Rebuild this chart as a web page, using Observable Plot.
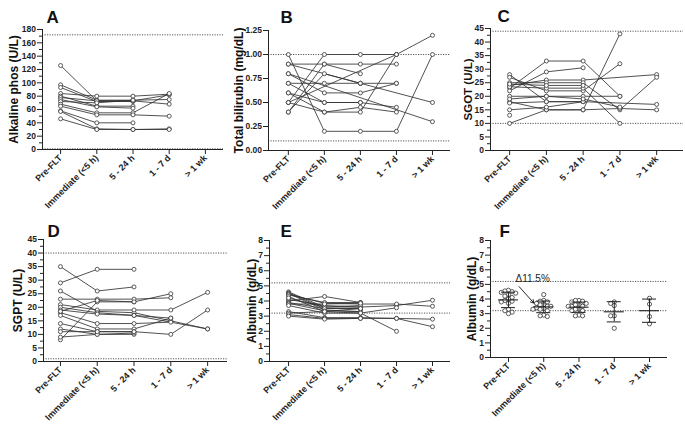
<!DOCTYPE html>
<html><head><meta charset="utf-8">
<script src="https://cdn.jsdelivr.net/npm/d3@7"></script>
<script src="https://cdn.jsdelivr.net/npm/@observablehq/plot@0.6"></script>
<style>
body{margin:0;background:#fff}
#wrap{position:relative;width:685px;height:435px;overflow:hidden}
#wrap>svg{position:absolute;background:transparent}
</style>
</head><body><div id="wrap"></div>
<script>
// ---- categories ----
const timepoints = ["Pre-FLT", "Immediate (<5 h)", "5 - 24 h", "1 - 7 d", "> 1 wk"];

// ---- per-patient series (Pre-FLT, Immediate, 5-24 h, 1-7 d, >1 wk) ----
const alkPhos = [
  [126, 73, 73, 82, null],
  [97, 74, 74, 75, null],
  [93, 72, 72, null, null],
  [84, 80, 80, 83, null],
  [80, 65, 65, null, null],
  [78, 73, 73, 68, null],
  [75, 64, 62, null, null],
  [72, 70, 74, null, null],
  [68, 55, 55, 84, null],
  [65, 52, 52, 50, null],
  [58, 40, 40, null, null],
  [57, 31, 30, 31, null],
  [46, 30, 30, 30, null]
];
const bilirubin = [
  [1.0, 0.2, 0.2, 0.2, 1.0],
  [0.9, 0.9, 0.9, 0.9, null],
  [0.9, null, 0.7, null, 0.5],
  [0.8, null, null, null, 0.3],
  [0.5, 1.0, 1.0, 1.0, null],
  [0.4, 0.9, 0.8, null, null],
  [0.5, null, null, 1.0, 1.2],
  [0.7, 0.7, 0.7, 0.7, null],
  [0.6, 0.5, 0.5, 0.45, null],
  [0.8, 0.6, 0.6, 0.7, null],
  [0.5, 0.4, 0.4, 1.0, null],
  [0.6, 0.4, 0.45, 0.4, null],
  [0.4, 0.8, 0.7, null, null],
  [0.7, 0.5, 0.5, null, null]
];
const sgot = [
  [10, 15, 15, 43, null],
  [23, 33, 33, 20, null],
  [22, 29, 30.5, null, null],
  [24, 26, 26, null, 28],
  [25, 25, 25, 15, 27],
  [28, 18, 18, null, 17],
  [27, 22, 22, 32, null],
  [23.5, 23, 23, 10, null],
  [20, 20, 20, 20, null],
  [18, 15, 15, 15.5, 15],
  [17.5, 18, 18, null, null],
  [13, null, null, null, null],
  [15, 16, 18, null, null],
  [24.5, 24, 24, null, null],
  [19, 20, 19, 16, null]
];
const sgpt = [
  [29, 34, 34, null, null],
  [35, 26, 27.5, null, null],
  [26, 18.5, 18, 15, 12],
  [8, 22, 22, 25, null],
  [23, 23, 23, 23.5, null],
  [21, 19, 19, 19, 25.5],
  [20, 18, 17, 16, null],
  [19, 17.5, 17, null, 12],
  [18, 14, 14, 14.5, null],
  [17, 12, 12, 16, null],
  [14, 11, 11, 10, 19],
  [12, 10, 10, null, null],
  [9, 10, 10.5, null, null],
  [11, 11, 11, null, null],
  [18.5, 22.5, 22, null, null]
];
const albumin = [
  [4.6, 3.6, 3.6, 3.7, 4.05],
  [4.55, 3.5, 3.5, null, null],
  [4.5, 3.4, 3.3, null, null],
  [4.45, 3.85, 3.8, 3.8, 3.65],
  [4.4, 3.9, 3.9, null, null],
  [4.0, 4.3, 3.9, null, null],
  [4.3, 3.3, 3.2, 3.55, null],
  [4.1, 3.7, 3.6, null, null],
  [4.2, 3.6, 3.7, null, null],
  [3.9, 3.5, 3.5, null, null],
  [3.85, 3.35, 3.3, null, null],
  [3.8, 3.8, 3.85, null, null],
  [3.7, 3.2, 3.2, 2.0, null],
  [3.3, 2.9, 2.9, 2.85, 2.8],
  [3.2, 3.3, 3.5, null, null],
  [3.1, 2.85, 2.85, 2.85, 2.3],
  [3.0, 2.8, 2.85, null, null]
];

// ---- reference ranges (dotted lines) ----
const alkPhosRef = [1, 172];
const bilirubinRef = [0.1, 1.0];
const sgotRef = [10, 44];
const sgptRef = [1, 40];
const albuminRef = [3.2, 5.2];

// ---- annotation in panel F ----
const deltaLabel = "Δ11.5%";
const deltaText = [{t: 0.2, v: 5.35}];
const deltaArrow = [{t1: 0.3, v1: 4.85, t2: 0.72, v2: 3.72}];

const FONT = "'Liberation Sans', Arial, Helvetica, sans-serif";
const wrap = document.getElementById("wrap");

function range(a, b, s) { const r = []; for (let v = a; v <= b + 1e-9; v += s) r.push(+v.toFixed(4)); return r; }

function axesMarks(cfg) {
  const marks = [];
  if (cfg.minor) marks.push(Plot.axisY({ticks: cfg.minor, tickSize: 3, tickFormat: () => "", stroke: "#222"}));
  marks.push(Plot.axisY({ticks: cfg.major, tickSize: 5, tickPadding: 1.5, tickFormat: cfg.fmt || (d => d), fontSize: 8.5, fontWeight: "bold", stroke: "#222"}));
  marks.push(Plot.axisX({ticks: [0, 1, 2, 3, 4], tickFormat: i => timepoints[i], tickRotate: -45, tickSize: 5, tickPadding: 2, fontSize: 9, fontWeight: "bold", stroke: "#222"}));
  marks.push(Plot.ruleX([cfg.xDomain[0]], {stroke: "#222", strokeWidth: 1}));
  marks.push(Plot.ruleY([0], {stroke: "#222", strokeWidth: 1}));
  marks.push(Plot.text([cfg.label], {frameAnchor: "left", dx: cfg.labelDx, rotate: -90, textAnchor: "middle", lineAnchor: "middle", fontSize: cfg.labelSize || 12, fontWeight: "bold", fill: "#111"}));
  marks.push(Plot.text([cfg.letter], {frameAnchor: "top-left", dx: cfg.letterDx, dy: cfg.letterDy, lineAnchor: "bottom", textAnchor: "start", fontSize: 17, fontWeight: "bold", fill: "#111"}));
  return marks;
}

function place(svg, left, top) {
  svg.style.left = left + "px";
  svg.style.top = top + "px";
  wrap.appendChild(svg);
}

function linePanel(cfg) {
  const rows = [];
  cfg.series.forEach((s, p) => s.forEach((v, t) => { if (v != null) rows.push({p, t, v}); }));
  const svg = Plot.plot({
    width: cfg.width, height: cfg.height,
    marginLeft: cfg.ml, marginTop: cfg.mt, marginBottom: cfg.mb, marginRight: cfg.mr,
    x: {type: "linear", domain: cfg.xDomain, label: null},
    y: {domain: [0, cfg.yMax], label: null},
    style: {fontFamily: FONT, color: "#222", background: "transparent", overflow: "visible"},
    marks: [
      Plot.ruleY(cfg.refs, {stroke: "#444", strokeWidth: 0.9, strokeDasharray: "1.2,1.3"}),
      ...axesMarks(cfg),
      Plot.line(rows, {x: "t", y: "v", z: "p", stroke: "#333", strokeWidth: 0.85}),
      Plot.dot(rows, {x: "t", y: "v", r: 2, stroke: "#333", strokeWidth: 0.8, fill: "white"})
    ]
  });
  place(svg, cfg.left, cfg.top);
}

function scatterPanel(cfg) {
  const innerW = cfg.width - cfg.ml - cfg.mr;
  const innerH = cfg.height - cfg.mt - cfg.mb;
  const pxX = innerW / (cfg.xDomain[1] - cfg.xDomain[0]);
  const pxY = innerH / cfg.yMax;
  const pts = [];
  const stats = [];
  for (let t = 0; t < timepoints.length; t++) {
    const vals = cfg.series.map(s => s[t]).filter(v => v != null).sort((a, b) => b - a);
    const placed = [];
    const d = 3.6;
    for (const v of vals) {
      let off = 0;
      for (let k = 0; k < 40; k++) {
        const cand = (k % 2 ? -1 : 1) * Math.ceil(k / 2) * d;
        const ok = placed.every(q => Math.hypot(q.o - cand, (q.v - v) * pxY) >= d);
        if (ok) { off = cand; break; }
      }
      placed.push({o: off, v});
      pts.push({x: t + off / pxX, v});
    }
    stats.push({t, mean: d3.mean(vals), sd: d3.deviation(vals)});
  }
  const mw = 10 / pxX, cw = 7 / pxX;
  const svg = Plot.plot({
    width: cfg.width, height: cfg.height,
    marginLeft: cfg.ml, marginTop: cfg.mt, marginBottom: cfg.mb, marginRight: cfg.mr,
    x: {type: "linear", domain: cfg.xDomain, label: null},
    y: {domain: [0, cfg.yMax], label: null},
    style: {fontFamily: FONT, color: "#222", background: "transparent", overflow: "visible"},
    marks: [
      Plot.ruleY(cfg.refs, {stroke: "#444", strokeWidth: 0.9, strokeDasharray: "1.2,1.3"}),
      ...axesMarks(cfg),
      Plot.dot(pts, {x: "x", y: "v", r: 2.1, stroke: "#333", strokeWidth: 0.8, fill: "white"}),
      Plot.ruleX(stats, {x: "t", y1: d => d.mean - d.sd, y2: d => d.mean + d.sd, stroke: "#222", strokeWidth: 1}),
      Plot.ruleY(stats, {y: "mean", x1: d => d.t - mw, x2: d => d.t + mw, stroke: "#222", strokeWidth: 1.1}),
      Plot.ruleY(stats, {y: d => d.mean + d.sd, x1: d => d.t - cw, x2: d => d.t + cw, stroke: "#222", strokeWidth: 1}),
      Plot.ruleY(stats, {y: d => d.mean - d.sd, x1: d => d.t - cw, x2: d => d.t + cw, stroke: "#222", strokeWidth: 1}),
      Plot.text(deltaText, {x: "t", y: "v", text: () => deltaLabel, textAnchor: "start", fontSize: 10, fill: "#222"}),
      Plot.arrow(deltaArrow, {x1: "t1", y1: "v1", x2: "t2", y2: "v2", stroke: "#111", strokeWidth: 0.9, headLength: 6, bend: false})
    ]
  });
  place(svg, cfg.left, cfg.top);
}

linePanel({series: alkPhos, refs: alkPhosRef, letter: "A", label: "Alkaline phos (U/L)",
  left: 0, top: 0, width: 228, height: 215, ml: 42, mt: 29, mb: 66, mr: 5, xDomain: [-0.5, 4.5],
  yMax: 180, major: range(0, 180, 20), minor: range(10, 170, 20), labelDx: -28, letterDx: 4, letterDy: -7});
linePanel({series: bilirubin, refs: bilirubinRef, letter: "B", label: "Total bilirubin (mg/dL)",
  left: 225, top: 0, width: 228, height: 215, ml: 43, mt: 30, mb: 65, mr: 3, xDomain: [-0.55, 4.5],
  yMax: 1.25, major: range(0, 1.25, 0.25), minor: null, fmt: d3.format(".2f"), labelDx: -29, letterDx: 12, letterDy: -8});
linePanel({series: sgot, refs: sgotRef, letter: "C", label: "SGOT (U/L)",
  left: 450, top: 0, width: 235, height: 215, ml: 40, mt: 28, mb: 65, mr: 2, xDomain: [-0.52, 4.73],
  yMax: 45, major: range(0, 45, 5), minor: range(2.5, 42.5, 5), labelDx: -22, labelSize: 11.5, letterDx: 7, letterDy: -7});
linePanel({series: sgpt, refs: sgptRef, letter: "D", label: "SGPT (U/L)",
  left: 0, top: 215, width: 230, height: 220, ml: 43, mt: 24, mb: 74, mr: 3, xDomain: [-0.46, 4.54],
  yMax: 45, major: range(0, 45, 5), minor: range(2.5, 42.5, 5), labelDx: -25, letterDx: 4, letterDy: -3});
linePanel({series: albumin, refs: albuminRef, letter: "E", label: "Albumin (g/dL)",
  left: 225, top: 215, width: 228, height: 220, ml: 44, mt: 25, mb: 74, mr: 3, xDomain: [-0.53, 4.5],
  yMax: 8, major: range(0, 8, 1), minor: range(0.5, 7.5, 1), labelDx: -17, letterDx: 11, letterDy: -4});
scatterPanel({series: albumin, refs: albuminRef, letter: "F", label: "Albumin (g/dL)",
  left: 450, top: 215, width: 235, height: 220, ml: 40, mt: 25, mb: 78, mr: 18, xDomain: [-0.51, 4.51],
  yMax: 8, major: range(0, 8, 1), minor: range(0.5, 7.5, 1), labelDx: -18, letterDx: 9, letterDy: -4});
</script>
</body></html>
